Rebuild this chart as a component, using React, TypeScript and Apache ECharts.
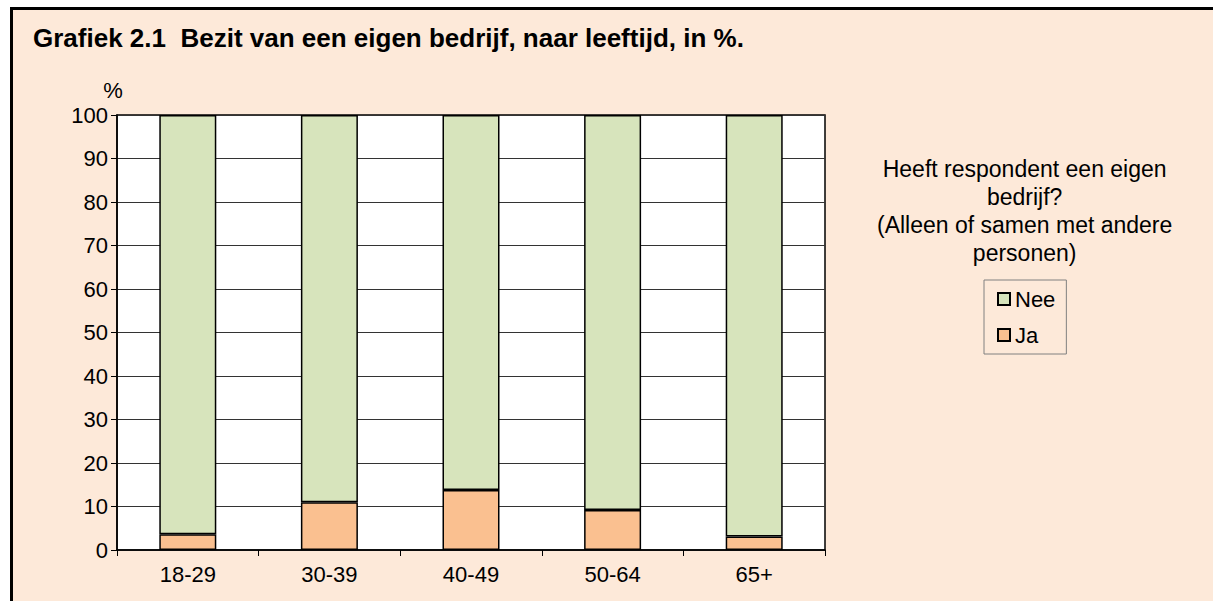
import React, { useEffect, useRef } from "react";
import * as echarts from "echarts";

const categories = ["18-29", "30-39", "40-49", "50-64", "65+"];
const jaValues = [3.6, 11.0, 13.8, 9.2, 3.1];
const neeValues = [96.4, 89.0, 86.2, 90.8, 96.9];
const yTicks = { min: 0, max: 100, interval: 10 };
const titleText = "Grafiek 2.1  Bezit van een eigen bedrijf, naar leeftijd, in %.";
const legendTitle = "Heeft respondent een eigen\nbedrijf?\n(Alleen of samen met andere\npersonen)";

export default function App() {
  const ref = useRef<HTMLDivElement>(null);
  useEffect(() => {
    if (!ref.current) return;
    const chart = echarts.init(ref.current, undefined, { renderer: "svg" });
    const font = "Liberation Sans, Arial, sans-serif";
    chart.setOption({
      animation: false,
      textStyle: { fontFamily: font },
      title: {
        text: titleText,
        left: 28,
        top: 20,
        textStyle: { fontSize: 26, fontWeight: "bold", color: "#000", fontFamily: font },
      },
      grid: {
        left: 117,
        top: 115,
        width: 708,
        height: 435,
        show: true,
        backgroundColor: "#ffffff",
        borderColor: "#000",
        borderWidth: 1.5,
      },
      legend: {
        data: ["Nee", "Ja"],
        orient: "vertical",
        left: 984,
        top: 280,
        width: 84,
        borderColor: "#808080",
        borderWidth: 1,
        padding: [8, 11, 8, 13],
        itemWidth: 12,
        itemHeight: 12,
        itemGap: 14,
        icon: "rect",
        textStyle: { fontSize: 22, color: "#000", fontFamily: font, padding: [0, 0, 0, 0] },
      },
      graphic: [
        {
          type: "text",
          left: 1027 - 150,
          top: 155,
          style: {
            text: legendTitle,
            x: 150,
            textAlign: "center",
            fontSize: 23,
            lineHeight: 28,
            fill: "#000",
            fontFamily: font,
          },
        },
      ],
      xAxis: {
        type: "category",
        data: categories,
        axisLine: { show: true, lineStyle: { color: "#000", width: 1.5 } },
        axisTick: { show: true, inside: false, length: 6, lineStyle: { color: "#000" } },
        axisLabel: { fontSize: 22, color: "#000", margin: 13, fontFamily: font },
        splitLine: { show: false },
      },
      yAxis: {
        type: "value",
        min: yTicks.min,
        max: yTicks.max,
        interval: yTicks.interval,
        name: "%",
        nameLocation: "end",
        nameGap: 14,
        nameTextStyle: { fontSize: 22, color: "#000", fontFamily: font, align: "center", padding: [0, 8, 0, 0] },
        axisLine: { show: true, lineStyle: { color: "#000", width: 1.5 } },
        axisTick: { show: true, inside: false, length: 6, lineStyle: { color: "#000" } },
        axisLabel: { fontSize: 22, color: "#000", margin: 9, fontFamily: font },
        splitLine: { show: true, lineStyle: { color: "#333", width: 1 } },
      },
      series: [
        {
          name: "Ja",
          type: "bar",
          stack: "total",
          data: jaValues,
          barWidth: 57,
          itemStyle: { color: "#FAC090", borderColor: "#000", borderWidth: 1.5 },
        },
        {
          name: "Nee",
          type: "bar",
          stack: "total",
          data: neeValues,
          barWidth: 57,
          itemStyle: { color: "#D7E4BC", borderColor: "#000", borderWidth: 1.5 },
        },
      ],
    });
    return () => chart.dispose();
  }, []);

  return (
    <div style={{ position: "fixed", left: 0, top: 0, width: 1213, height: 601, background: "#fff", overflow: "hidden" }}>
      <div
        style={{
          position: "absolute",
          left: 10,
          top: 7,
          width: 1230,
          height: 620,
          background: "#FDE9D9",
          borderLeft: "3px solid #000",
          borderTop: "3px solid #000",
        }}
      />
      <div ref={ref} style={{ position: "absolute", left: 0, top: 0, width: 1213, height: 601 }} />
    </div>
  );
}
